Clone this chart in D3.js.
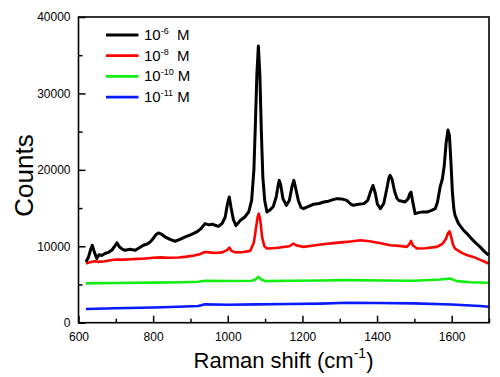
<!DOCTYPE html>
<html><head><meta charset="utf-8">
<script src="https://cdn.jsdelivr.net/npm/d3@7"></script>
<style>
body{margin:0;background:#fff;}
svg{display:block;font-family:"Liberation Sans",Arial,sans-serif;}
</style></head>
<body><svg id="c" width="500" height="377"></svg>
<script>
const xTicks = [600, 800, 1000, 1200, 1400, 1600];
const yTicks = [0, 10000, 20000, 30000, 40000];
const seriesNames = ["10^-6 M", "10^-8 M", "10^-10 M", "10^-11 M"];
const seriesExp = ["-6", "-8", "-10", "-11"];
const seriesColors = ["#000000", "#ff0000", "#12ee12", "#0a1aff"];

const blackShift = [620,627,632,637,642,649,655,662,671,680,689,697,703,710,718,725,738,752,763,774,784,792,800,807,814,822,832,845,859,872,886,900,917,928,939,950,958,966,975,985,993,999,1004,1009,1015,1022,1034,1045,1056,1064,1070,1074,1078,1082,1086,1090,1094,1099,1105,1112,1122,1130,1135,1138,1142,1148,1157,1165,1172,1177,1182,1189,1196,1203,1215,1230,1245,1257,1270,1282,1293,1305,1319,1330,1337,1350,1365,1375,1383,1389,1395,1401,1409,1418,1426,1432,1435,1440,1447,1453,1458,1467,1475,1483,1488,1491,1495,1502,1512,1522,1534,1546,1556,1562,1569,1575,1580,1585,1590,1594,1598,1602,1606,1609,1618,1630,1641,1655,1665,1676,1688,1699];
const blackCounts = [7960,8600,9500,10140,9300,8400,8900,8800,9050,9200,9480,10000,10440,9900,9600,9480,9600,9480,9800,10140,10300,10570,11000,11500,11740,11600,11220,10900,10660,10900,11220,11500,11870,12300,12970,12800,12900,12750,12600,13000,13800,15500,16440,15000,13500,12700,13400,13800,14480,16000,20000,26000,32500,36200,32500,25000,19000,16000,14480,14700,15200,16500,18000,18620,18000,16200,15360,16000,17800,18620,17600,16000,15100,14920,15200,15500,15600,15790,15900,16100,16230,16200,16000,15500,15360,15500,15580,16000,17200,17960,17000,15500,14920,15600,17500,19000,19270,18800,17200,16300,16000,15900,15790,16200,16900,17090,16000,14270,14400,14500,14480,14700,14920,15800,17740,18800,20500,23500,25200,24500,21000,17000,14800,14050,13000,12200,11660,10900,10400,9920,9300,8830];

const redShift = [620,630,645,654,670,690,703,720,740,760,778,800,820,840,868,890,910,925,939,950,966,985,998,1004,1010,1020,1042,1060,1070,1076,1080,1083,1087,1092,1098,1105,1120,1135,1150,1165,1176,1185,1203,1230,1260,1290,1319,1340,1355,1380,1410,1435,1460,1480,1487,1491,1496,1507,1530,1560,1575,1585,1590,1594,1598,1603,1609,1625,1640,1658,1675,1690,1699];
const redCounts = [7750,7900,8050,7960,8050,8200,8270,8250,8300,8350,8400,8500,8550,8500,8530,8650,8800,8950,9260,9200,9130,9200,9500,9830,9400,9200,9260,9400,10500,12500,13800,14270,13500,11200,10000,9700,9750,9800,9900,10000,10360,10100,9920,10100,10300,10450,10570,10700,10790,10650,10400,10140,10050,9920,10300,10700,10100,9700,9750,9920,10300,11000,11700,11960,11400,10300,9700,9200,8850,8610,8250,7950,7750];

const greenShift = [620,700,800,880,921,939,1000,1064,1074,1082,1090,1100,1162,1250,1319,1420,1498,1569,1596,1605,1614,1650,1694,1699];
const greenCounts = [5140,5200,5250,5300,5350,5480,5450,5480,5650,6000,5650,5440,5480,5530,5570,5520,5480,5660,5790,5600,5440,5300,5220,5200];

const blueShift = [620,700,800,868,921,939,1000,1080,1162,1250,1319,1400,1498,1600,1676,1699];
const blueCounts = [1790,1900,1980,2090,2180,2400,2350,2400,2450,2500,2610,2580,2530,2380,2180,2090];

const series = [
  {shift: blackShift, counts: blackCounts, w: 3},
  {shift: redShift, counts: redCounts, w: 2.6},
  {shift: greenShift, counts: greenCounts, w: 2.6},
  {shift: blueShift, counts: blueCounts, w: 2.6}
];

const svg = d3.select("#c");
const L = 78.5, R = 489, T = 17, B = 322.7;
const x = d3.scaleLinear().domain([600, 1700]).range([L, R]);
const y = d3.scaleLinear().domain([0, 40000]).range([B, T]);

const g = svg.append("g");
svg.append("clipPath").attr("id","clip").append("rect").attr("x",L).attr("y",T).attr("width",R-L).attr("height",B-T);

const line = d3.line().x(d => x(d[0])).y(d => y(d[1])).curve(d3.curveLinear);
for (let i = series.length - 1; i >= 0; i--) {
  const s = series[i];
  const pts = s.shift.map((v, k) => [v, s.counts[k]]);
  g.append("path").attr("d", line(pts)).attr("fill","none")
    .attr("stroke", seriesColors[i]).attr("stroke-width", s.w)
    .attr("stroke-linejoin","round").attr("clip-path","url(#clip)");
}

const xAx = d3.axisBottom(x).tickValues(d3.range(600, 1701, 100)).tickSize(-7)
  .tickFormat(d => xTicks.includes(d) ? d : "");
const xg = svg.append("g").attr("transform", `translate(0,${B})`).call(xAx);
xg.selectAll(".tick line").attr("y2", d => xTicks.includes(d) ? -7 : -4).attr("stroke-width",1.5);
xg.select(".domain").remove();
xg.selectAll("text").attr("y", 10).attr("font-size", 12).attr("font-family","Liberation Sans, Arial, sans-serif");

const yAx = d3.axisLeft(y).tickValues(d3.range(0, 40001, 5000)).tickSize(-7)
  .tickFormat(d => yTicks.includes(d) ? d : "");
const yg = svg.append("g").attr("transform", `translate(${L},0)`).call(yAx);
yg.selectAll(".tick line").attr("x2", d => yTicks.includes(d) ? 7 : 4).attr("stroke-width",1.5);
yg.select(".domain").remove();
yg.selectAll("text").attr("x", -8).attr("font-size", 12).attr("font-family","Liberation Sans, Arial, sans-serif");

svg.append("rect").attr("x",L).attr("y",T).attr("width",R-L).attr("height",B-T)
  .attr("fill","none").attr("stroke","#000").attr("stroke-width",1.6);

const lg = svg.append("g");
seriesColors.forEach((c, i) => {
  const yy = 35 + i * 20.7;
  lg.append("line").attr("x1",106).attr("x2",138.5).attr("y1",yy).attr("y2",yy)
    .attr("stroke", c).attr("stroke-width", 2.8);
  const t = lg.append("text").attr("x",144).attr("y",yy+5).attr("font-size",15);
  t.append("tspan").text("10");
  t.append("tspan").attr("dy",-6).attr("font-size",9).text(seriesExp[i]);
  t.append("tspan").attr("dy",6).text(seriesExp[i].length > 2 ? " M" : "  M").attr("xml:space","preserve");
});

svg.append("text").attr("transform","translate(32.5,175.5) rotate(-90)")
  .attr("text-anchor","middle").attr("font-size",26).text("Counts");
const xt = svg.append("text").attr("x",283.5).attr("y",367.5).attr("text-anchor","middle").attr("font-size",22);
xt.append("tspan").text("Raman shift (cm");
xt.append("tspan").attr("dy",-10).attr("font-size",14).text("-1");
xt.append("tspan").attr("dy",10).text(")");
</script></body></html>
